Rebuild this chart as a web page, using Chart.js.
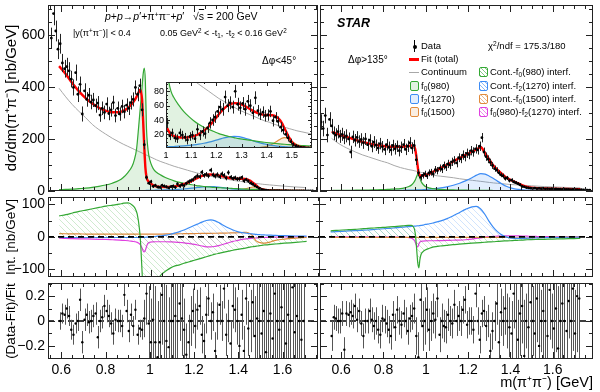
<!DOCTYPE html>
<html>
<head>
<meta charset="utf-8">
<title>STAR pi+pi- invariant mass</title>
<script src="https://cdn.jsdelivr.net/npm/chart.js@4.4.1/dist/chart.umd.min.js"></script>
<style>
  html, body { margin: 0; padding: 0; background: #fff; }
  body { position: relative; width: 600px; height: 392px; overflow: hidden; font-family: "Liberation Sans", Arial, sans-serif; }
  .pane { position: absolute; }
  .t { position: absolute; white-space: nowrap; line-height: 1; color: #000; }
  .t sup, .t sub { font-size: 70%; line-height: 0; position: relative; vertical-align: baseline; }
  .t sup { top: -0.45em; }
  .t sub { top: 0.3em; }
  .sw { position: absolute; box-sizing: border-box; }
  .box { width: 9px; height: 10px; border: 1.3px solid; border-radius: 2px; }
</style>
</head>
<body>
<div class="pane" style="left:0;top:0;width:322px;height:196px"><canvas id="topL"></canvas></div>
<div class="pane" style="left:316px;top:0;width:284px;height:196px"><canvas id="topR"></canvas></div>
<div class="pane" style="left:0;top:196px;width:322px;height:84px"><canvas id="midL"></canvas></div>
<div class="pane" style="left:316px;top:196px;width:284px;height:84px"><canvas id="midR"></canvas></div>
<div class="pane" style="left:0;top:270px;width:322px;height:122px"><canvas id="botL"></canvas></div>
<div class="pane" style="left:316px;top:270px;width:284px;height:122px"><canvas id="botR"></canvas></div>
<div class="pane" style="left:148px;top:78px;width:168px;height:86px"><canvas id="inset"></canvas></div>

<!-- panel annotations -->
<div class="t" style="left:105px;top:11px;font-size:10.5px"><i>p</i>+<i>p</i>→<i>p</i>′+π<sup>+</sup>π<sup>−</sup>+<i>p</i>′&nbsp;&nbsp;&nbsp;√<span style="text-decoration:overline">s</span> = 200 GeV</div>
<div class="t" style="left:73px;top:29px;font-size:9px">|y(π<sup>+</sup>π<sup>−</sup>)| &lt; 0.4</div>
<div class="t" style="left:160px;top:29px;font-size:9px">0.05 GeV<sup>2</sup> &lt; -t<sub>1</sub>, -t<sub>2</sub> &lt; 0.16 GeV<sup>2</sup></div>
<div class="t" style="left:262px;top:56px;font-size:10px">Δφ&lt;45°</div>
<div class="t" style="left:337px;top:17px;font-size:12.5px;font-weight:bold;font-style:italic">STAR</div>
<div class="t" style="left:348px;top:55px;font-size:10px">Δφ&gt;135°</div>

<!-- legend -->
<div class="sw" style="left:414px;top:40px;width:1px;height:12px;background:#000"></div>
<div class="sw" style="left:412.5px;top:44.5px;width:4px;height:4px;border-radius:2px;background:#000"></div>
<div class="t" style="left:421px;top:41px;font-size:9.5px">Data</div>
<div class="sw" style="left:409px;top:58px;width:10px;height:2.5px;background:#ff0000"></div>
<div class="t" style="left:421px;top:54px;font-size:9.5px">Fit (total)</div>
<div class="sw" style="left:409px;top:71.5px;width:10px;height:1px;background:#a8a8a8"></div>
<div class="t" style="left:421px;top:67px;font-size:9.5px">Continuum</div>
<div class="sw box" style="left:410px;top:81px;border-color:#33a833;background:rgba(51,168,51,0.15)"></div>
<div class="t" style="left:421px;top:81px;font-size:9.5px">f<sub>0</sub>(980)</div>
<div class="sw box" style="left:410px;top:94px;border-color:#3d8cf5;background:rgba(61,140,245,0.15)"></div>
<div class="t" style="left:421px;top:94px;font-size:9.5px">f<sub>2</sub>(1270)</div>
<div class="sw box" style="left:410px;top:107px;border-color:#e08a3c;background:rgba(224,138,60,0.15)"></div>
<div class="t" style="left:421px;top:107px;font-size:9.5px">f<sub>0</sub>(1500)</div>

<div class="t" style="left:488px;top:41px;font-size:9.5px">χ<sup>2</sup>/ndf = 175.3/180</div>
<div class="sw box" style="left:479px;top:67px;border-color:#33a833;background:repeating-linear-gradient(45deg,rgba(51,168,51,0.6) 0 0.8px,transparent 0.8px 3px)"></div>
<div class="t" style="left:490px;top:67px;font-size:9.5px">Cont.-f<sub>0</sub>(980) interf.</div>
<div class="sw box" style="left:479px;top:81px;border-color:#3d8cf5;background:repeating-linear-gradient(45deg,rgba(61,140,245,0.6) 0 0.8px,transparent 0.8px 3px)"></div>
<div class="t" style="left:490px;top:81px;font-size:9.5px">Cont.-f<sub>2</sub>(1270) interf.</div>
<div class="sw box" style="left:479px;top:94px;border-color:#e08a3c;background:repeating-linear-gradient(45deg,rgba(224,138,60,0.6) 0 0.8px,transparent 0.8px 3px)"></div>
<div class="t" style="left:490px;top:94px;font-size:9.5px">Cont.-f<sub>0</sub>(1500) interf.</div>
<div class="sw box" style="left:479px;top:107px;border-color:#e040e0;background:repeating-linear-gradient(45deg,rgba(224,64,224,0.6) 0 0.8px,transparent 0.8px 3px)"></div>
<div class="t" style="left:490px;top:107px;font-size:9.5px">f<sub>0</sub>(980)-f<sub>2</sub>(1270) interf.</div>

<script>
// ---------- measured spectra, Δφ<45° (left) ----------
const massL = [
  0.555,0.565,0.575,0.585,0.595,0.605,0.615,0.625,0.635,0.645,
  0.655,0.665,0.675,0.685,0.695,0.705,0.715,0.725,0.735,0.745,
  0.755,0.765,0.775,0.785,0.795,0.805,0.815,0.825,0.835,0.845,
  0.855,0.865,0.875,0.885,0.895,0.905,0.915,0.925,0.935,0.945,
  0.955,0.965,0.975,0.985,0.995,1.005,1.015,1.025,1.035,1.045,
  1.055,1.065,1.075,1.085,1.095,1.105,1.115,1.125,1.135,1.145,
  1.155,1.165,1.175,1.185,1.195,1.205,1.215,1.225,1.235,1.245,
  1.255,1.265,1.275,1.285,1.295,1.305,1.315,1.325,1.335,1.345,
  1.355,1.365,1.375,1.385,1.395,1.405,1.415,1.425,1.435,1.445,
  1.455,1.465,1.475,1.485,1.495,1.505,1.515,1.525,1.535,1.545,
  1.555,1.565,1.575,1.585,1.595,1.605,1.615,1.625,1.635,1.645,
  1.655,1.665,1.675,1.685,1.695,1.705,1.715,1.725,1.735
];
const yieldL = [
  588,682,615,545,566,492,470,478,462,430,
  398,455,372,410,296,385,352,368,342,350,
  328,338,292,318,302,334,298,312,340,290,
  318,296,325,305,330,318,340,352,398,372,
  405,312,178,52,30,36,18,22,15,14,
  22,19,16,12,17,19,14,27,19,24,
  21,29,36,40,44,52,58,55,72,60,
  64,58,80,62,57,63,55,66,60,50,
  71,53,48,51,46,47,52,39,44,38,
  30,26,20,15,10,6,4,3,2,1.5,
  1.2,1.0,0.9,1.1,0.8,0.7,0.9,0.6,0.7,0.5,
  0.6,0.5,0.4,0.6,0.4,0.5,0.3,0.4,0.3
];
const errL = [
  40,45,40,38,38,35,34,34,33,32,
  31,31,30,30,29,29,28,28,28,27,
  27,27,26,26,26,26,26,26,26,26,
  26,26,26,26,26,26,27,27,27,27,
  27,25,18,9,7,7,6,6,6,6,
  6,6,6,6,6,6,6,7,7,7,
  7,7,8,8,8,8,9,9,9,9,
  9,9,9,9,9,9,9,9,9,9,
  9,8,8,8,8,8,8,8,7,7,
  7,6,5,5,4,3,2.5,2,1.5,1.2,
  1,1,1,1,1,1,1,1,1,1,
  1,1,1,1,1,1,1,1,1
];
const residL = [
  null,null,null,null,
  0.00,0.06,0.05,0.10,0.04,-0.07,-0.11,-0.02,0.00,0.17,
  -0.17,0.01,0.05,-0.01,0.00,0.04,0.06,-0.13,0.00,0.03,
  0.12,0.08,0.04,-0.02,-0.10,0.01,0.00,0.00,-0.04,0.21,
  0.08,-0.08,0.05,-0.04,0.09,-0.11,-0.06,-0.07,0.02,0.22,
  -0.02,-0.17,0.01,-0.17,-0.29,-0.17,0.21,0.00,-0.16,-0.21,
  0.00,0.00,0.04,0.00,0.14,0.02,-0.07,-0.27,-0.17,0.00,
  0.08,-0.04,0.09,0.12,-0.11,-0.16,0.05,0.18,0.00,0.07,
  -0.24,0.00,0.13,0.00,0.26,-0.11,0.00,-0.18,0.12,0.09,
  0.00,-0.20,0.05,-0.24,0.18,-0.06,0.00,0.15,-0.12,0.02,
  0.00,-0.10,0.08,-0.25,0.00,0.06,-0.14,0.22,0.00,-0.07,
  0.11,0.00,-0.18,0.05,0.00,0.27,-0.09,0.04,0.00,-0.15,
  0.00,
  null,null,null,null
];
const residErrL = [
  null,null,null,null,
  0.07,0.08,0.08,0.08,0.08,0.08,0.08,0.08,0.08,0.09,
  0.09,0.09,0.09,0.09,0.09,0.09,0.09,0.09,0.09,0.09,
  0.09,0.09,0.09,0.09,0.09,0.09,0.09,0.09,0.09,0.09,
  0.09,0.09,0.09,0.08,0.08,0.08,0.07,0.08,0.15,0.25,
  0.30,0.35,0.40,0.45,0.45,0.40,0.40,0.40,0.45,0.40,
  0.40,0.40,0.35,0.35,0.30,0.30,0.25,0.25,0.22,0.20,
  0.18,0.18,0.16,0.15,0.15,0.14,0.15,0.14,0.15,0.15,
  0.15,0.15,0.16,0.16,0.16,0.17,0.17,0.18,0.18,0.18,
  0.19,0.19,0.20,0.20,0.21,0.22,0.25,0.28,0.32,0.40,
  0.50,0.60,0.70,0.80,0.90,1.00,1.00,1.00,1.00,1.00,
  1.00,1.00,1.00,1.00,1.00,1.00,1.00,1.00,1.00,1.00,
  1.00,
  null,null,null,null
];

// ---------- fit components, Δφ<45° ----------
const gridL = [
  0.59,0.62,0.65,0.68,0.71,0.74,0.77,0.80,0.83,0.86,
  0.88,0.90,0.92,0.93,0.94,0.95,0.955,0.96,0.965,0.97,
  0.975,0.98,0.985,0.99,0.995,1.00,1.01,1.02,1.03,1.05,
  1.07,1.09,1.11,1.13,1.15,1.17,1.19,1.21,1.23,1.25,
  1.27,1.29,1.31,1.33,1.35,1.37,1.39,1.41,1.43,1.45,
  1.46,1.47,1.48,1.49,1.50,1.51,1.52,1.54,1.56,1.60,
  1.65,1.70
];
const fitL = [
  480,450,414,383,357,336,320,309,303,303,
  308,318,335,347,362,380,388,382,352,268,
  170,90,54,41,36,32,25,20,18,16,
  15.5,16,17.5,20.5,25,31,39,48,56,61,
  63.5,63,60,56,52,49,47,47,46,41,
  36,29,22,15,9.5,6,4,2,1.2,0.8,
  0.6,0.4
];
const contL = [
  395,362,332,306,282,256,236,219,203,189,
  180,172,164,160,156,152,150,148,146,144,
  142,140,138,136,134,132,128,124,120,113,
  107,101,95,90,85,80,75,70,66,62,
  58,54,51,48,45,42,39,37,34,32,
  31,30,29,28,27,26,25,23.5,22,19,
  16,13.5
];
const f0L = [
  5,6,7,9,11,14,18,23,30,40,
  52,70,95,120,160,250,300,350,400,450,
  472,420,240,175,140,120,95,80,72,61,
  52,45,39,34,30,27,24,21,19,17,
  15.5,14,13,12,11,10,9,8.2,7.5,6.8,
  6.5,6.2,5.9,5.6,5.3,5,4.8,4.4,4,3.4,
  2.8,2.3
];
const f2L = [
  0.3,0.35,0.4,0.45,0.5,0.6,0.7,0.8,0.9,1.0,
  1.1,1.2,1.4,1.5,1.6,1.7,1.8,1.8,1.9,1.9,
  2,2,2.1,2.2,2.3,2.5,2.7,2.9,3.1,3.5,
  4,4.6,5.3,6.3,7.6,9.2,11,13,15,16.5,
  17.2,16.8,15.2,13,10.5,8.5,6.8,5.4,4.3,3.4,
  3.1,2.8,2.5,2.3,2.1,1.9,1.8,1.5,1.3,1.1,
  0.9,0.7
];
const f1500L = [
  0.2,0.2,0.2,0.2,0.2,0.2,0.2,0.2,0.2,0.2,
  0.2,0.2,0.2,0.2,0.2,0.2,0.2,0.2,0.2,0.2,
  0.2,0.2,0.2,0.2,0.2,0.2,0.2,0.2,0.2,0.2,
  0.3,0.3,0.3,0.3,0.3,0.3,0.3,0.4,0.4,0.4,
  0.5,0.5,0.6,0.7,1,1.6,2.6,4.5,8,12.5,
  14.5,15.5,15,13,10.5,8,5.8,3,1.8,0.9,
  0.5,0.3
];
const intF0L = [
  64,68,73,78,82,86,90,94,97,100,
  103,104,96,88,70,25,-15,-80,-150,-230,
  -290,-310,-290,-260,-230,-205,-175,-150,-133,-114,
  -104,-95,-89,-86,-81,-77,-73,-69,-65,-61,
  -57,-53,-50,-47,-44,-41,-38.5,-36,-34,-31,
  -30,-29,-28,-27,-26,-25,-24.5,-23,-22,-19.5,
  -17,-14
];
const intF2L = [
  -2,-2,-2,-2,-2,-2,-2,-2,-2,-2,
  -2,-2,-2,-2,-2,-2,-2,-2,-2,-1.5,
  -1.5,-1,-1,-1,-0.5,0,0.5,1,2,3,
  5,8,12,16,21,27,33,39,45,50,
  52,49,42,34,27,21,16,13,11,9.5,
  8.5,7.8,7,6.5,6,5.8,5.5,5,4.5,3.5,
  2.5,2
];
const intF1500L = [
  10,9.5,9,8.8,8.6,8.4,8.2,8,8,8,
  8,8,8,8,8,8,8,8,8,8,
  8,8,8,8,8,8,8,8.2,8.4,8.6,
  8.8,9,9.2,9.4,9.6,9.8,10,10.2,10.4,10.6,
  10.8,11,11.2,11.5,11.8,12,12.5,13,14,8,
  2,-10,-15,-17.5,-19,-19,-18.5,-15,-11,-7,
  -4,-2
];
const intMixL = [
  -4,-5,-5.5,-6,-6.5,-7,-7.5,-8,-9,-10,
  -11,-12,-14,-15,-17,-21,-25,-31,-40,-46,
  -44,-34,-24,-19,-17,-16,-15.5,-15,-15,-15,
  -15,-15.5,-16,-17,-18.5,-20,-22.5,-25,-28,-30.5,
  -31,-29,-26,-22,-18,-14,-11,-8,-6,-4.5,
  -4,-3.5,-3,-2.5,-2,-2,-1.5,-1,-1,-0.5,
  0,0
];

// ---------- measured spectra, Δφ>135° (right) ----------
const massR = [
  0.505,0.515,0.525,0.535,0.545,0.555,0.565,0.575,0.585,0.595,
  0.605,0.615,0.625,0.635,0.645,0.655,0.665,0.675,0.685,0.695,
  0.705,0.715,0.725,0.735,0.745,0.755,0.765,0.775,0.785,0.795,
  0.805,0.815,0.825,0.835,0.845,0.855,0.865,0.875,0.885,0.895,
  0.905,0.915,0.925,0.935,0.945,0.955,0.965,0.975,0.985,0.995,
  1.005,1.015,1.025,1.035,1.045,1.055,1.065,1.075,1.085,1.095,
  1.105,1.115,1.125,1.135,1.145,1.155,1.165,1.175,1.185,1.195,
  1.205,1.215,1.225,1.235,1.245,1.255,1.265,1.275,1.285,1.295,
  1.305,1.315,1.325,1.335,1.345,1.355,1.365,1.375,1.385,1.395,
  1.405,1.415,1.425,1.435,1.445,1.455,1.465,1.475,1.485,1.495,
  1.505,1.515,1.525,1.535,1.545,1.555,1.565,1.575,1.585,1.595,
  1.605,1.615,1.625,1.635,1.645,1.655,1.665,1.675,1.685,1.695,
  1.705,1.715,1.725,1.735,1.745,1.755,1.765,1.775
];
const yieldR = [
  265,240,290,215,275,250,222,215,228,210,
  218,205,212,200,150,208,195,206,190,198,
  185,200,178,195,172,188,176,165,182,170,
  160,178,168,158,175,162,172,155,168,178,
  160,172,185,165,175,120,70,52,60,66,
  58,70,72,65,82,78,88,84,98,92,
  104,100,112,118,108,128,124,138,132,145,
  140,155,150,162,158,172,205,150,132,122,
  110,98,86,80,70,62,58,48,50,40,
  42,35,32,28,24,18,16,13,12,11,
  10,11,9,10,9,10,8,9,8,9,
  7,8,7,7,6,7,6,6,5,6,
  5,5,4,5,4,4,3,3
];
const errR = [
  30,30,30,28,28,27,26,26,26,25,
  25,25,25,25,24,24,24,24,24,24,
  23,23,23,23,23,23,22,22,22,22,
  22,22,22,22,22,22,22,22,22,22,
  22,22,22,22,22,20,14,12,12,12,
  12,13,13,13,14,14,14,15,15,15,
  16,16,16,16,17,17,17,18,18,18,
  18,18,18,18,18,18,18,17,16,15,
  14,13,12,11,10,9,9,8,8,7,
  7,6,6,6,5,5,4,4,4,4,
  3,3,3,3,3,3,3,3,3,3,
  3,3,3,3,3,3,3,2,2,2,
  2,2,2,2,2,2,2,2
];
const residR = [
  null,null,null,null,null,
  -0.12,0.03,0.02,0.00,0.00,0.06,-0.23,0.06,0.05,0.07,
  0.04,0.12,0.01,0.08,-0.02,-0.12,0.00,0.00,0.08,0.01,
  -0.04,0.00,-0.07,-0.11,0.02,0.01,-0.02,-0.07,-0.12,0.05,
  -0.05,0.09,0.00,-0.03,0.06,0.00,-0.08,0.02,0.04,0.10,
  -0.12,-0.29,0.17,-0.04,0.00,0.09,-0.07,0.00,0.06,0.01,
  0.18,-0.11,0.00,-0.04,-0.05,0.05,0.00,-0.02,0.13,0.00,
  0.04,0.00,0.09,0.17,-0.03,0.00,0.00,-0.07,0.22,0.00,
  -0.15,0.06,0.08,-0.04,0.00,-0.24,-0.08,0.00,0.14,-0.17,
  0.07,0.00,0.10,0.00,-0.05,-0.10,0.22,0.00,-0.15,0.06,
  0.12,-0.28,0.00,-0.05,0.15,0.00,-0.10,0.18,-0.20,0.00,
  0.08,0.00,-0.12,0.25,0.00,-0.06,0.10,-0.22,0.00,0.14,
  0.00,-0.08,0.16,0.00,0.26,-0.10,0.20,0.18,
  null,null,null,null,null
];
const residErrR = [
  null,null,null,null,null,
  0.12,0.10,0.10,0.10,0.10,0.10,0.10,0.10,0.10,0.10,
  0.10,0.10,0.10,0.10,0.10,0.10,0.10,0.10,0.10,0.10,
  0.11,0.11,0.11,0.11,0.11,0.11,0.11,0.11,0.11,0.11,
  0.11,0.11,0.11,0.11,0.11,0.11,0.11,0.11,0.11,0.12,
  0.15,0.20,0.22,0.20,0.19,0.18,0.17,0.16,0.16,0.15,
  0.15,0.14,0.14,0.13,0.13,0.13,0.12,0.12,0.12,0.12,
  0.12,0.12,0.11,0.11,0.11,0.11,0.11,0.11,0.11,0.11,
  0.11,0.11,0.12,0.12,0.13,0.14,0.15,0.16,0.17,0.18,
  0.19,0.20,0.21,0.22,0.24,0.26,0.28,0.30,0.32,0.34,
  0.30,0.45,0.22,0.40,0.50,0.28,0.45,0.35,0.50,0.25,
  0.45,0.30,0.50,0.40,0.22,0.45,0.35,0.50,0.30,0.45,
  0.40,0.50,0.30,0.45,0.50,0.35,0.45,0.50,
  null,null,null,null,null
];

// ---------- fit components, Δφ>135° ----------
const gridR = [
  0.555,0.58,0.61,0.64,0.67,0.70,0.73,0.76,0.79,0.82,
  0.85,0.88,0.90,0.92,0.935,0.945,0.95,0.955,0.96,0.965,
  0.97,0.975,0.98,0.99,1.00,1.02,1.04,1.07,1.10,1.13,
  1.16,1.19,1.22,1.24,1.26,1.28,1.30,1.32,1.34,1.36,
  1.38,1.40,1.42,1.44,1.46,1.48,1.50,1.53,1.56,1.60,
  1.65,1.70,1.73
];
const fitR = [
  228,220,212,204,196,189,183,178,174,171,
  170,170,171,173,175,172,160,135,105,75,
  62,59,59,60,62,68,76,88,101,114,
  127,140,152,160,168,145,121,97,80,66,
  52,43,35,28,21,16,13,11,10,9,
  8,7,6.5
];
const contR = [
  202,187,172,160,149,139,131,123,115,108,
  98,90,86,82,80,78,77,76,75,74,
  73,72,71,69,67,64,60,57,54,51,
  47,44,41,39,37,35,33,31,29.5,28,
  26.5,25,24,23,22,21,20,18.5,17,15.5,
  14,12.5,12
];
const f0R = [
  2,2.2,2.4,2.7,3,3.4,3.8,4.4,5,6,
  7.5,9,12,17,25,35,42,52,62,69,
  58,42,33,23,16,11,8,6,4.5,4,
  3.5,3,2.8,2.6,2.4,2.2,2.1,2,1.9,1.8,
  1.7,1.6,1.5,1.4,1.35,1.3,1.25,1.2,1.15,1.1,
  1.05,1,1
];
const f2R = [
  1,1.1,1.2,1.3,1.4,1.5,1.7,1.9,2.1,2.3,
  2.5,2.8,3,3.3,3.6,3.8,3.9,4,4.1,4.2,
  4.3,4.4,4.5,5,6,7.5,9,12,16,22,
  30,40,52,61,67,65,57,48,37,27,
  18,12,8,6,4.5,3.5,3,2.5,2,1.7,
  1.4,1.2,1
];
const f1500R = [
  0.2,0.2,0.2,0.2,0.2,0.2,0.2,0.2,0.2,0.2,
  0.2,0.2,0.2,0.2,0.2,0.2,0.2,0.2,0.2,0.2,
  0.2,0.2,0.2,0.2,0.2,0.2,0.2,0.2,0.2,0.2,
  0.2,0.2,0.2,0.2,0.2,0.2,0.2,0.2,0.2,0.2,
  0.3,0.4,0.5,0.8,1,0.9,0.6,0.4,0.3,0.2,
  0.2,0.2,0.2
];
const intF0R = [
  18.5,19.5,21,22,23,24.5,26,27,28.5,30,
  31,33,34,35,35,30,22,0,-40,-80,
  -95,-70,-55,-45,-40,-35,-31,-28,-26,-24,
  -22.5,-21,-19.5,-18.5,-17.5,-16.5,-15.5,-15,-14,-13,
  -12.5,-12,-11,-10.5,-10,-9,-8.5,-8,-7.5,-7,
  -6,-5.5,-5
];
const intF2R = [
  15,16,17,18,19,20,21,22.5,24,25.5,
  27,29,30,31,32,32.5,33,33,33.5,34,
  34,34.5,35,36,38,40,43,48,55,64,
  74,84,92,93,86,70,48,30,16,6,
  0,-3,-4.5,-5,-4.5,-4,-3.5,-3,-2.5,-2,
  -1.5,-1.2,-1
];
const intF1500R = [
  -1.5,-1.5,-1.5,-1.5,-1.5,-1.5,-1.5,-1.5,-1.5,-1.5,
  -1.5,-1.5,-1.5,-1.5,-1.5,-1.5,-1.5,-1.5,-1.5,-1.5,
  -1.5,-1.5,-1.5,-1.5,-1.5,-1.5,-1.5,-1.5,-1.5,-1.5,
  -1.5,-1.5,-1.5,-1.5,-1.5,-1.5,-1.5,-1.5,-1.5,-1.5,
  -1.5,-2.5,-3.2,-4,-5,-4,-3,-2.5,-2,-1.5,
  -1.2,-1,-1
];
const intMixR = [
  0,0,0,0,0,0,0,-0.5,-0.5,-0.5,
  -0.8,-1,-1,-2,-4,-8,-12,-20,-28,-31,
  -22,-16,-14,-13,-12.5,-12,-12,-11.5,-11,-10.5,
  -10,-9,-7,-5,-3,-1,0.5,1.5,2,2.5,
  2.8,3,3,2.8,2.5,2,1.5,1,0.5,0.3,
  0,0,0
];

// axis ranges
const X_LEFT = [0.54, 1.76];
const X_RIGHT = [0.5, 1.79];
const X_INSET = [1.0, 1.58];
const Y_TOP = [0, 715];
const Y_INSET = [1, 93];
const Y_INT = [-123, 122];
const Y_RES = [-0.305, 0.305];

const FONT = '"Liberation Sans", Arial, sans-serif';
const RED = '#ff0000', GRAY = '#a8a8a8';
const GREEN = '#33a833', BLUE = '#3d8cf5', ORANGE = '#e08a3c', MAGENTA = '#e040e0';
const GREEN_FILL = 'rgba(51,168,51,0.15)', BLUE_FILL = 'rgba(61,140,245,0.15)', ORANGE_FILL = 'rgba(224,138,60,0.15)';

function hatch(color) {
    const c = document.createElement('canvas');
    c.width = 6; c.height = 6;
    const g = c.getContext('2d');
    g.strokeStyle = color;
    g.lineWidth = 0.6;
    g.beginPath();
    g.moveTo(0, 0); g.lineTo(6, 6);
    g.moveTo(-3, 3); g.lineTo(3, 9);
    g.moveTo(3, -3); g.lineTo(9, 3);
    g.stroke();
    return g.createPattern(c, 'repeat');
}

function fmtTick(v) {
    const s = String(+Math.abs(v).toFixed(2));
    return v < 0 ? '\u2212' + s : s;
}

const curve = (ms, vs) => ms.map((m, i) => ({x: m, y: vs[i]}));
const points = (ms, vs, es) => ms.map((m, i) => ({x: m, y: vs[i], e: es[i]})).filter(p => p.y !== null);

function line(ms, vs, color, width, fill) {
    return {
        data: curve(ms, vs), showLine: true, borderColor: color, borderWidth: width,
        pointRadius: 0, cubicInterpolationMode: 'monotone',
        fill: fill ? 'origin' : false, backgroundColor: fill || 'transparent'
    };
}
function dataSet(ms, vs, es, barColor, r) {
    return {data: points(ms, vs, es), pointRadius: r, pointBackgroundColor: '#000', pointBorderWidth: 0, errColor: barColor};
}
function zeroLine(range) {
    return {data: [{x: range[0], y: 0}, {x: range[1], y: 0}], showLine: true, borderColor: '#000',
            borderWidth: 1.6, borderDash: [6, 4], pointRadius: 0};
}

// vertical error bars, mapped through the chart scales
const errorBars = {
    id: 'errorBars',
    beforeDatasetDraw(chart, args) {
        const ds = chart.data.datasets[args.index];
        if (!ds.errColor) return;
        const {ctx, chartArea: a, scales: {x, y}} = chart;
        ctx.save();
        ctx.beginPath(); ctx.rect(a.left, a.top, a.width, a.height); ctx.clip();
        ctx.strokeStyle = ds.errColor; ctx.lineWidth = 1;
        ctx.beginPath();
        ds.data.forEach(p => {
            const px = Math.round(x.getPixelForValue(p.x)) + 0.5;
            ctx.moveTo(px, y.getPixelForValue(p.y - p.e));
            ctx.lineTo(px, y.getPixelForValue(p.y + p.e));
        });
        ctx.stroke();
        ctx.restore();
    }
};

// ROOT-like frame with inward ticks on all four sides
const framePlugin = {
    id: 'frame',
    beforeDraw(chart, args, o) {
        if (!o.bg) return;
        const {ctx, chartArea: a} = chart;
        ctx.save(); ctx.fillStyle = o.bg; ctx.fillRect(a.left, a.top, a.width, a.height); ctx.restore();
    },
    afterDraw(chart, args, o) {
        const {ctx, chartArea: a, scales} = chart;
        ctx.save();
        ctx.strokeStyle = '#222'; ctx.lineWidth = 1;
        ctx.strokeRect(a.left + 0.5, a.top + 0.5, a.width - 1, a.height - 1);
        ctx.beginPath();
        const marks = (sc, minor, major, horiz) => {
            for (let k = Math.ceil(sc.min / minor - 1e-6); k * minor <= sc.max + 1e-9; k++) {
                const v = k * minor;
                const r = v / major;
                const len = Math.abs(r - Math.round(r)) < 1e-3 ? o.major : o.minor;
                const p = Math.round(sc.getPixelForValue(v)) + 0.5;
                if (horiz) {
                    ctx.moveTo(p, a.bottom); ctx.lineTo(p, a.bottom - len);
                    ctx.moveTo(p, a.top); ctx.lineTo(p, a.top + len);
                } else {
                    ctx.moveTo(a.left, p); ctx.lineTo(a.left + len, p);
                    ctx.moveTo(a.right, p); ctx.lineTo(a.right - len, p);
                }
            }
        };
        marks(scales.x, o.xMinor, o.xMajor, true);
        marks(scales.y, o.yMinor, o.yMajor, false);
        ctx.stroke();
        ctx.restore();
    }
};

function panel(id, o) {
    return new Chart(document.getElementById(id), {
        type: 'scatter',
        data: {datasets: o.datasets},
        options: {
            responsive: true,
            maintainAspectRatio: false,
            animation: false,
            events: [],
            layout: {padding: o.padding},
            plugins: {
                legend: {display: false},
                tooltip: {enabled: false},
                frame: o.frame
            },
            scales: {
                x: {
                    type: 'linear', min: o.x[0], max: o.x[1],
                    display: !!o.xLabels,
                    afterFit: s => { s.height = o.xHeight || 0; s.paddingLeft = 0; s.paddingRight = 0; },
                    grid: {display: false, drawTicks: false},
                    border: {display: false},
                    ticks: {
                        stepSize: o.xStep || 0.2, includeBounds: false, autoSkip: false, maxRotation: 0,
                        padding: o.xPad ?? 3, color: '#000',
                        font: {family: FONT, size: o.tickSize || 14}, callback: fmtTick
                    },
                    title: o.xTitle ? {
                        display: true, text: o.xTitle, align: 'end', color: '#000',
                        font: {family: FONT, size: 14.5}, padding: {top: 0, bottom: 0}
                    } : {display: false}
                },
                y: {
                    type: 'linear', min: o.y[0], max: o.y[1],
                    display: !!o.yLabels,
                    afterFit: s => { s.width = o.yWidth || 0; s.paddingTop = 0; s.paddingBottom = 0; },
                    grid: {display: false, drawTicks: false},
                    border: {display: false},
                    ticks: {
                        stepSize: o.yStep, includeBounds: false, autoSkip: false,
                        padding: o.yPad ?? 3, color: '#000',
                        font: {family: FONT, size: o.tickSize || 14}, callback: fmtTick
                    },
                    title: o.yTitle ? {
                        display: true, text: o.yTitle, color: '#000',
                        font: {family: FONT, size: o.yTitleSize || 13.5}, padding: {top: 3, bottom: 0}
                    } : {display: false}
                }
            }
        },
        plugins: [errorBars, framePlugin]
    });
}

function spectrum(mass, yld, err, grid, fit, f0, f2, f1500, cont) {
    return [
        dataSet(mass, yld, err, '#222', 1.4),
        line(grid, fit, RED, 2.4),
        line(grid, f0, GREEN, 1.2, GREEN_FILL),
        line(grid, f2, BLUE, 1.2, BLUE_FILL),
        line(grid, f1500, ORANGE, 1.2, ORANGE_FILL),
        line(grid, cont, GRAY, 1)
    ];
}
function interference(range, grid, i0, i2, i1500, mix) {
    return [
        zeroLine(range),
        line(grid, i0, GREEN, 1.2, hatch('rgba(51,168,51,0.4)')),
        line(grid, i2, BLUE, 1.2, hatch('rgba(61,140,245,0.4)')),
        line(grid, i1500, ORANGE, 1.2, hatch('rgba(224,138,60,0.4)')),
        line(grid, mix, MAGENTA, 1.2, hatch('rgba(224,64,224,0.35)'))
    ];
}

const frameTop = {xMinor: 0.05, xMajor: 0.2, yMinor: 50, yMajor: 200, major: 7, minor: 4};
const frameInt = {xMinor: 0.05, xMajor: 0.2, yMinor: 50, yMajor: 100, major: 7, minor: 4};
const frameRes = {xMinor: 0.05, xMajor: 0.2, yMinor: 0.1, yMajor: 0.2, major: 7, minor: 4};

panel('topL', {
    datasets: spectrum(massL, yieldL, errL, gridL, fitL, f0L, f2L, f1500L, contL),
    x: X_LEFT, y: Y_TOP, yStep: 200, yLabels: true, yWidth: 48,
    yTitle: 'd\u03c3/dm(\u03c0\u207a\u03c0\u207b) [nb/GeV]', yTitleSize: 15,
    padding: {top: 5, right: 2, bottom: 5, left: 0}, frame: frameTop
});
panel('topR', {
    datasets: spectrum(massR, yieldR, errR, gridR, fitR, f0R, f2R, f1500R, contR),
    x: X_RIGHT, y: Y_TOP, yStep: 200,
    padding: {top: 5, right: 7, bottom: 5, left: 3}, frame: frameTop
});
panel('inset', {
    datasets: spectrum(massL, yieldL, errL, gridL, fitL, f0L, f2L, f1500L, contL),
    x: X_INSET, y: Y_INSET, xStep: 0.1, yStep: 20, tickSize: 9,
    xLabels: true, xHeight: 16, xPad: 2, yLabels: true, yWidth: 18, yPad: 2,
    padding: {top: 3, right: 3, bottom: 0, left: 0},
    frame: {xMinor: 0.05, xMajor: 0.1, yMinor: 5, yMajor: 20, major: 4, minor: 2, bg: '#fff'}
});
panel('midL', {
    datasets: interference(X_LEFT, gridL, intF0L, intF2L, intF1500L, intMixL),
    x: X_LEFT, y: Y_INT, yStep: 100, yLabels: true, yWidth: 48,
    yTitle: 'Int. [nb/GeV]',
    padding: {top: 1, right: 2, bottom: 3, left: 0}, frame: frameInt
});
panel('midR', {
    datasets: interference(X_RIGHT, gridR, intF0R, intF2R, intF1500R, intMixR),
    x: X_RIGHT, y: Y_INT, yStep: 100,
    padding: {top: 1, right: 7, bottom: 3, left: 3}, frame: frameInt
});
panel('botL', {
    datasets: [dataSet(massL, residL, residErrL, '#555', 1.2), zeroLine(X_LEFT)],
    x: X_LEFT, y: Y_RES, yStep: 0.2, yLabels: true, yWidth: 48,
    yTitle: '(Data-Fit)/Fit', xLabels: true, xHeight: 33,
    padding: {top: 13, right: 2, bottom: 0, left: 0}, frame: frameRes
});
panel('botR', {
    datasets: [dataSet(massR, residR, residErrR, '#555', 1.2), zeroLine(X_RIGHT)],
    x: X_RIGHT, y: Y_RES, yStep: 0.2, xLabels: true, xHeight: 33,
    xTitle: 'm(\u03c0\u207a\u03c0\u207b) [GeV]',
    padding: {top: 13, right: 7, bottom: 0, left: 3}, frame: frameRes
});
</script>
</body>
</html>
